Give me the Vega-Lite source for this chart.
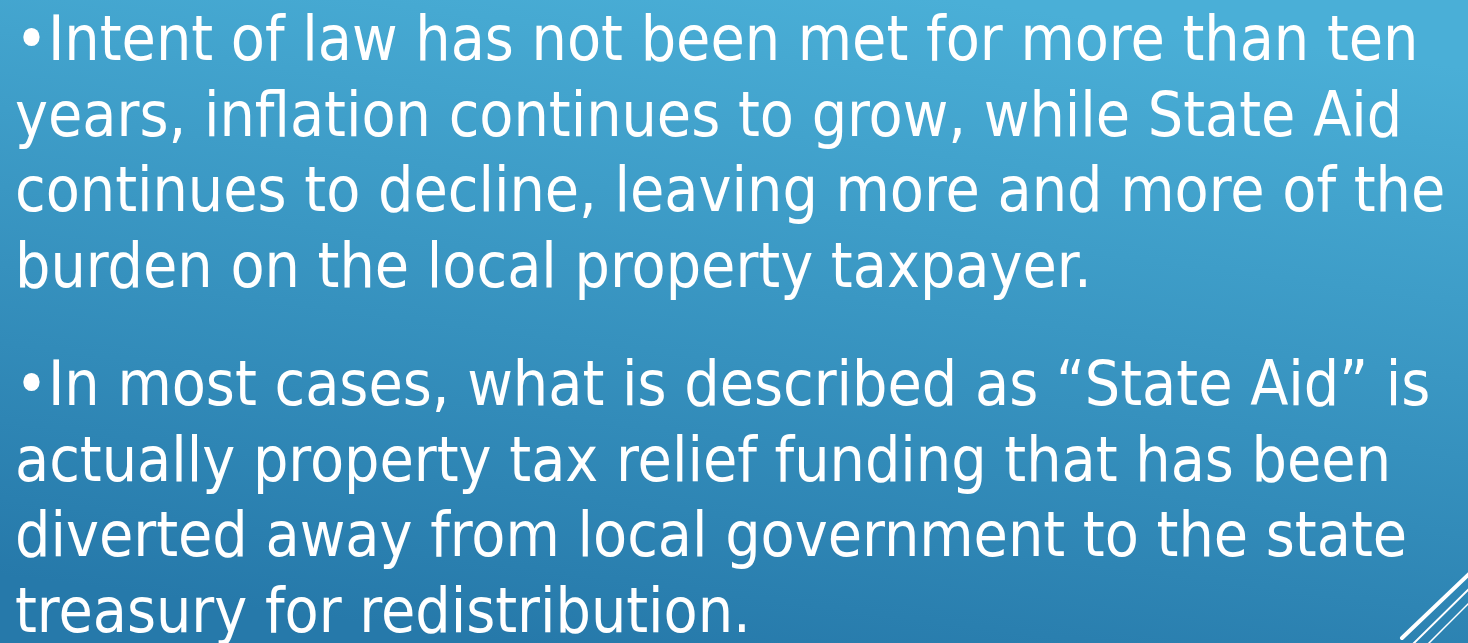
{
  "$schema": "https://vega.github.io/schema/vega-lite/v6.json",
  "width": 1468,
  "height": 643,
  "padding": 0,
  "autosize": {"type": "none"},
  "config": {"view": {"stroke": null}, "axis": {"disable": true}},
  "datasets": {
    "bg": [{"x0": 0, "x1": 1468, "y0": 0, "y1": 643}],
    "lines": [
      {"ln": 1, "x": 15, "y": 60, "text": "•Intent of law has not been met for more than ten"},
      {"ln": 2, "x": 15, "y": 135.5, "text": "years, inflation continues to grow, while State Aid"},
      {"ln": 3, "x": 15, "y": 211, "text": "continues to decline, leaving more and more of the"},
      {"ln": 4, "x": 15, "y": 286.5, "text": "burden on the local property taxpayer."},
      {"ln": 5, "x": 15, "y": 405, "text": "•In most cases, what is described as “State Aid” is"},
      {"ln": 6, "x": 15, "y": 481, "text": "actually property tax relief funding that has been"},
      {"ln": 7, "x": 15, "y": 556, "text": "diverted away from local government to the state"},
      {"ln": 8, "x": 15, "y": 632, "text": "treasury for redistribution."}
    ],
    "deco": [
      {"id": "a", "xa": 1402, "ya": 638, "xb": 1470, "yb": 573, "w": 4},
      {"id": "b", "xa": 1412, "ya": 645, "xb": 1470, "yb": 588, "w": 2},
      {"id": "c", "xa": 1427, "ya": 645, "xb": 1470, "yb": 602, "w": 1.5}
    ]
  },
  "layer": [
    {
      "data": {"name": "bg"},
      "mark": {
        "type": "rect",
        "color": {
          "gradient": "linear",
          "x1": 0.65, "y1": 0, "x2": 0.35, "y2": 1,
          "stops": [
            {"offset": 0, "color": "#4aafd7"},
            {"offset": 1, "color": "#2679aa"}
          ]
        }
      },
      "encoding": {
        "x": {"field": "x0", "type": "quantitative", "scale": {"domain": [0, 1468], "nice": false, "zero": false}},
        "x2": {"field": "x1"},
        "y": {"field": "y0", "type": "quantitative", "scale": {"domain": [0, 643], "nice": false, "zero": false, "reverse": true}},
        "y2": {"field": "y1"}
      }
    },
    {
      "data": {"name": "lines"},
      "mark": {"type": "text", "align": "left", "baseline": "alphabetic", "font": "DejaVu Sans Condensed", "fontSize": 62, "color": "#ffffff"},
      "encoding": {
        "x": {"field": "x", "type": "quantitative"},
        "y": {"field": "y", "type": "quantitative"},
        "text": {"field": "text"}
      }
    },
    {
      "data": {"name": "deco"},
      "mark": {"type": "rule", "color": "#ffffff", "strokeCap": "round"},
      "encoding": {
        "x": {"field": "xa", "type": "quantitative"},
        "y": {"field": "ya", "type": "quantitative"},
        "x2": {"field": "xb"},
        "y2": {"field": "yb"},
        "strokeWidth": {"field": "w", "type": "quantitative", "scale": null}
      }
    }
  ]
}
